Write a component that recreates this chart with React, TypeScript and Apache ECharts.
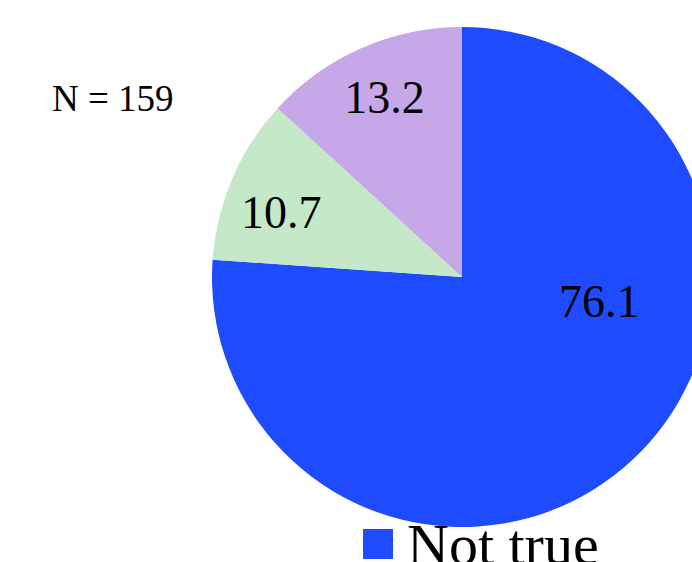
import React, { useEffect, useRef } from "react";
import * as echarts from "echarts";

const categories = ["Not true", "Somewhat true", "Very true"];
const values = [76.1, 10.7, 13.2];
const colors = ["#1f4bff", "#c4e8c8", "#c6a7e8"];
const labelOffsets = [
  [50, -69],
  [-63, -14],
  [-26, -62],
];
const noteText = "N = 159";

export default function App() {
  const ref = useRef<HTMLDivElement>(null);
  useEffect(() => {
    if (!ref.current) return;
    const chart = echarts.init(ref.current, null, { renderer: "svg" });
    const font = "'Liberation Serif', 'Times New Roman', serif";
    chart.setOption({
      animation: false,
      backgroundColor: "#ffffff",
      legend: {
        data: [categories[0]],
        left: 363,
        top: 515,
        padding: 0,
        icon: "rect",
        itemWidth: 30,
        itemHeight: 30,
        textStyle: {
          fontFamily: font,
          fontSize: 58,
          color: "#000",
          padding: [0, 0, 0, 9],
        },
      },
      graphic: [
        {
          type: "text",
          left: 52,
          top: 80,
          style: {
            text: noteText,
            fontFamily: font,
            fontSize: 37,
            fill: "#000",
          },
        },
      ],
      series: [
        {
          type: "pie",
          center: [462, 277],
          radius: [0, 250],
          startAngle: 90,
          clockwise: true,
          label: {
            show: true,
            position: "inside",
            formatter: (p: any) => p.value.toFixed(1),
            fontFamily: font,
            fontSize: 46,
            color: "#000",
          },
          labelLine: { show: false },
          emphasis: { disabled: true },
          itemStyle: { borderWidth: 0 },
          data: categories.map((name, i) => ({
            name,
            value: values[i],
            itemStyle: { color: colors[i] },
            label: { offset: labelOffsets[i] },
          })),
        },
      ],
    });
    return () => chart.dispose();
  }, []);
  return (
    <div
      ref={ref}
      style={{ position: "fixed", left: 0, top: 0, width: 692, height: 562 }}
    />
  );
}
